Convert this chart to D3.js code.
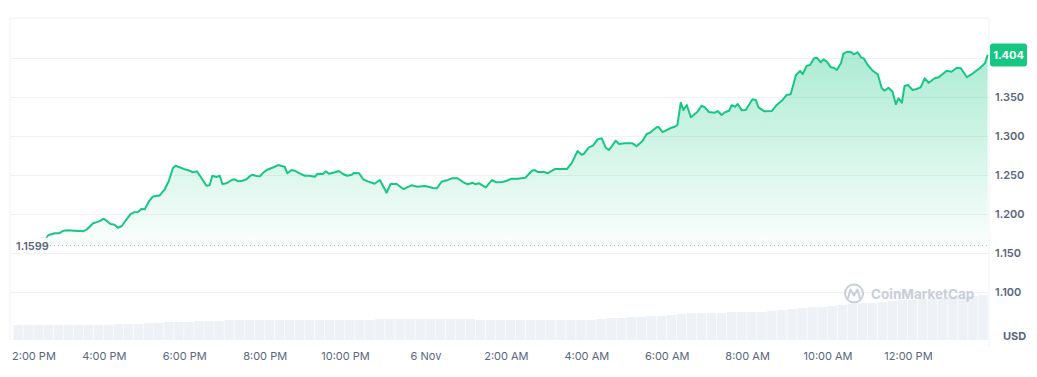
<!DOCTYPE html>
<html>
<head>
<meta charset="utf-8">
<script src="https://cdn.jsdelivr.net/npm/d3@7"></script>
<style>
body { margin: 0; background: #fff; }
text { font-family: Inter, "Noto Sans", sans-serif; }
</style>
</head>
<body>
<script>
// minutes after 5 Nov 2:00 PM
var minutes = [
  -17, 10, 35, 36, 39, 47, 53, 60, 66, 76,
  89, 95, 104, 113, 120, 124, 130, 136, 141, 147,
  153, 160, 165, 171, 176, 181, 187, 193, 199, 203,
  211, 217, 223, 227, 233, 241, 248, 253, 259, 266,
  273, 278, 282, 288, 293, 297, 303, 311, 315, 321,
  327, 333, 338, 342, 348, 353, 357, 363, 368, 375,
  380, 390, 394, 400, 405, 412, 420, 427, 435, 439,
  447, 451, 456, 465, 471, 477, 483, 490, 493, 501,
  507, 514, 524, 532, 542, 548, 557, 567, 579, 588,
  599, 606, 611, 617, 624, 632, 639, 648, 656, 663,
  671, 674, 680, 690, 699, 706, 715, 721, 729, 738,
  749, 759, 763, 768, 778, 782, 793, 800, 811, 818,
  827, 833, 836, 844, 850, 857, 863, 869, 874, 884,
  889, 897, 909, 915, 924, 930, 935, 945, 948, 954,
  965, 972, 976, 981, 985, 990, 996, 1006, 1012, 1017,
  1023, 1032, 1036, 1042, 1047, 1053, 1057, 1062, 1066, 1072,
  1078, 1088, 1093, 1097, 1106, 1117, 1124, 1133, 1139, 1145,
  1153, 1159, 1163, 1169, 1174, 1180, 1184, 1190, 1194, 1199,
  1205, 1209, 1214, 1220, 1224, 1230, 1236, 1239, 1245, 1250,
  1254, 1260, 1268, 1275, 1281, 1285, 1291, 1297, 1302, 1306,
  1311, 1315, 1320, 1327, 1333, 1339, 1345, 1351, 1360, 1366,
  1378, 1385, 1393, 1399, 1408, 1417, 1427, 1435, 1439
];
var prices = [
  1.1599, 1.1654, 1.1705, 1.1718, 1.1735, 1.1753, 1.1753, 1.1786, 1.1791, 1.1786,
  1.1778, 1.1804, 1.1881, 1.1906, 1.1940, 1.1914, 1.1872, 1.1863, 1.1824, 1.1846,
  1.1923, 1.2000, 1.2022, 1.2026, 1.2064, 1.2060, 1.2158, 1.2222, 1.2235, 1.2235,
  1.2317, 1.2423, 1.2586, 1.2619, 1.2599, 1.2573, 1.2555, 1.2535, 1.2547, 1.2458,
  1.2363, 1.2368, 1.2491, 1.2474, 1.2491, 1.2385, 1.2394, 1.2436, 1.2445, 1.2419,
  1.2427, 1.2445, 1.2487, 1.2504, 1.2487, 1.2483, 1.2522, 1.2564, 1.2581, 1.2606,
  1.2628, 1.2606, 1.2522, 1.2564, 1.2555, 1.2522, 1.2491, 1.2491, 1.2478, 1.2517,
  1.2513, 1.2547, 1.2517, 1.2535, 1.2551, 1.2513, 1.2491, 1.2504, 1.2526, 1.2522,
  1.2445, 1.2419, 1.2388, 1.2436, 1.2273, 1.2385, 1.2385, 1.2320, 1.2368, 1.2350,
  1.2359, 1.2346, 1.2333, 1.2329, 1.2414, 1.2432, 1.2458, 1.2458, 1.2410, 1.2381,
  1.2401, 1.2381, 1.2394, 1.2342, 1.2436, 1.2406, 1.2410, 1.2427, 1.2453, 1.2453,
  1.2465, 1.2555, 1.2564, 1.2538, 1.2538, 1.2522, 1.2577, 1.2577, 1.2577, 1.2650,
  1.2808, 1.2760, 1.2769, 1.2855, 1.2876, 1.2958, 1.2970, 1.2850, 1.2821, 1.2940,
  1.2897, 1.2906, 1.2906, 1.2868, 1.2936, 1.3026, 1.3042, 1.3112, 1.3115, 1.3051,
  1.3099, 1.3119, 1.3141, 1.3427, 1.3333, 1.3397, 1.3240, 1.3312, 1.3388, 1.3368,
  1.3308, 1.3299, 1.3321, 1.3269, 1.3304, 1.3324, 1.3394, 1.3376, 1.3410, 1.3329,
  1.3333, 1.3471, 1.3462, 1.3368, 1.3317, 1.3321, 1.3397, 1.3462, 1.3526, 1.3535,
  1.3782, 1.3833, 1.3795, 1.3901, 1.3910, 1.3996, 1.4004, 1.3945, 1.3983, 1.3953,
  1.3881, 1.3876, 1.3846, 1.3932, 1.4060, 1.4081, 1.4073, 1.4047, 1.4073, 1.4009,
  1.3996, 1.3910, 1.3833, 1.3791, 1.3612, 1.3581, 1.3619, 1.3568, 1.3406, 1.3483,
  1.3427, 1.3641, 1.3654, 1.3590, 1.3603, 1.3624, 1.3740, 1.3683, 1.3740, 1.3753,
  1.3837, 1.3824, 1.3876, 1.3868, 1.3753, 1.3804, 1.3868, 1.3932, 1.4040
];
// 15 minute volume bins, first bin starts at minute -15
var volumeStart = -15, volumeStep = 15;
var volumes = [
  15, 15, 15, 15, 15, 15, 15, 15, 15, 15,
  16, 16, 16, 17, 17, 18, 18, 18, 19, 19,
  19, 20, 20, 20, 20, 20, 20, 20, 20, 20,
  20, 20, 20, 20, 20, 20, 21, 21, 21, 21,
  21, 21, 21, 21, 21, 21, 20, 20, 20, 20,
  20, 20, 20, 20, 20, 20, 20, 20, 21, 22,
  22, 23, 23, 24, 24, 25, 26, 27, 27, 27,
  27, 28, 28, 28, 28, 29, 30, 31, 32, 33,
  33, 34, 35, 36, 37, 37, 38, 39, 40, 40,
  41, 41, 42, 43, 43, 44, 45
];
var tickMinutes = [0, 120, 240, 360, 480, 600, 720, 840, 960, 1080, 1200, 1320];
var tickLabels = ["2:00 PM", "4:00 PM", "6:00 PM", "8:00 PM", "10:00 PM", "6 Nov",
                  "2:00 AM", "4:00 AM", "6:00 AM", "8:00 AM", "10:00 AM", "12:00 PM"];
var priceTicks = [1.10, 1.15, 1.20, 1.25, 1.30, 1.35, 1.40];
var openPrice = 1.1599;
var lastPrice = 1.404;

var width = 1037, height = 377,
    plotLeft = 10, plotRight = 989, plotTop = 18, plotBottom = 340;

var green = "#16c784", grid = "#eff2f5", labelColor = "#58667e";

var svg = d3.select("body").append("svg")
    .attr("width", width)
    .attr("height", height);

var start = Date.UTC(2024, 10, 5, 14, 0);
function toDate(m) { return new Date(start + m * 60000); }

var x = d3.scaleTime()
    .domain([toDate(-20), toDate(1441)])
    .range([plotLeft, plotRight]);
var y = d3.scaleLinear()
    .domain([1.0385, 1.4513])
    .range([plotBottom, plotTop]);
var v = d3.scaleLinear()
    .domain([0, 100])
    .range([plotBottom, plotBottom - 100]);

var defs = svg.append("defs");
var areaGrad = defs.append("linearGradient")
    .attr("id", "areaGrad")
    .attr("gradientUnits", "userSpaceOnUse")
    .attr("x1", 0).attr("x2", 0)
    .attr("y1", y(1.41)).attr("y2", y(openPrice));
areaGrad.append("stop").attr("offset", 0).attr("stop-color", green).attr("stop-opacity", 0.36);
areaGrad.append("stop").attr("offset", 1).attr("stop-color", green).attr("stop-opacity", 0.02);

var fadeX = x(toDate(minutes[2]));
var lineGrad = defs.append("linearGradient")
    .attr("id", "lineGrad")
    .attr("gradientUnits", "userSpaceOnUse")
    .attr("x1", plotLeft).attr("x2", plotRight)
    .attr("y1", 0).attr("y2", 0);
var fadeOff = (fadeX - 1 - plotLeft) / (plotRight - plotLeft);
lineGrad.append("stop").attr("offset", 0).attr("stop-color", green).attr("stop-opacity", 0.12);
lineGrad.append("stop").attr("offset", fadeOff).attr("stop-color", green).attr("stop-opacity", 0.12);
lineGrad.append("stop").attr("offset", fadeOff + 0.001).attr("stop-color", green).attr("stop-opacity", 1);
lineGrad.append("stop").attr("offset", 1).attr("stop-color", green).attr("stop-opacity", 1);

// frame
svg.append("line")
    .attr("x1", plotLeft).attr("x2", plotRight)
    .attr("y1", plotTop).attr("y2", plotTop)
    .attr("stroke", grid);
svg.append("line")
    .attr("x1", plotLeft).attr("x2", plotLeft)
    .attr("y1", plotTop).attr("y2", plotBottom)
    .attr("stroke", grid);
svg.append("line")
    .attr("x1", plotRight).attr("x2", plotRight)
    .attr("y1", plotTop).attr("y2", plotBottom + 6)
    .attr("stroke", grid);

// grid lines
svg.append("g").selectAll("line")
    .data(priceTicks)
    .join("line")
    .attr("x1", plotLeft).attr("x2", plotRight)
    .attr("y1", d => Math.round(y(d)) + 0.5).attr("y2", d => Math.round(y(d)) + 0.5)
    .attr("stroke", grid);

// volume bars
svg.append("g").selectAll("rect")
    .data(volumes)
    .join("rect")
    .attr("x", (d, i) => x(toDate(volumeStart + volumeStep * i)))
    .attr("width", (d, i) => x(toDate(volumeStart + volumeStep * (i + 1))) - x(toDate(volumeStart + volumeStep * i)) - 0.6)
    .attr("y", d => v(d))
    .attr("height", d => v(0) - v(d))
    .attr("fill", "#eef1f5");

// watermark
var wm = svg.append("g").attr("fill", "none").attr("stroke", "#c9ced8");
wm.append("circle").attr("cx", 854).attr("cy", 293.5).attr("r", 9).attr("stroke-width", 2);
wm.append("path")
    .attr("d", "M848,298 L850.5,289.5 L854,295.5 L857.5,289.5 L860,298")
    .attr("stroke-width", 2).attr("stroke-linejoin", "round").attr("stroke-linecap", "round");
svg.append("text")
    .attr("x", 871).attr("y", 299)
    .attr("font-size", 13.5).attr("font-weight", 700)
    .attr("fill", "#c9ced8")
    .text("CoinMarketCap");

// area and line
var pts = minutes.map((m, i) => ({ t: toDate(m), p: prices[i] }));

svg.append("path")
    .datum(pts)
    .attr("fill", "url(#areaGrad)")
    .attr("d", d3.area()
        .x(d => x(d.t))
        .y0(y(openPrice))
        .y1(d => y(d.p)));

svg.append("path")
    .datum(pts)
    .attr("fill", "none")
    .attr("stroke", "url(#lineGrad)")
    .attr("stroke-width", 2)
    .attr("stroke-linejoin", "round")
    .attr("d", d3.line()
        .x(d => x(d.t))
        .y(d => y(d.p)));

// open price reference
svg.append("line")
    .attr("x1", 50).attr("x2", plotRight)
    .attr("y1", Math.round(y(openPrice)) + 0.5).attr("y2", Math.round(y(openPrice)) + 0.5)
    .attr("stroke", "#b4bac6")
    .attr("stroke-dasharray", "1,3");
svg.append("rect")
    .attr("x", 12).attr("y", y(openPrice) - 7)
    .attr("width", 37).attr("height", 14)
    .attr("fill", "#fff");
svg.append("text")
    .attr("x", 16).attr("y", y(openPrice) + 1)
    .attr("dy", "0.35em")
    .attr("font-size", 11).attr("font-weight", 600)
    .attr("fill", labelColor)
    .text(d3.format(".4f")(openPrice));

// right axis
var yAxis = d3.axisRight(y)
    .tickValues(priceTicks.filter(d => Math.abs(y(d) - y(lastPrice)) > 12))
    .tickFormat(d3.format(".3f"))
    .tickSize(0)
    .tickPadding(6);
var yg = svg.append("g")
    .attr("transform", `translate(${plotRight},0)`)
    .call(yAxis);
yg.select(".domain").remove();
yg.selectAll("text")
    .attr("fill", labelColor)
    .attr("font-size", 11)
    .attr("font-weight", 600)
    .attr("font-family", "Inter, sans-serif");

svg.append("text")
    .attr("x", 1003).attr("y", 336)
    .attr("dy", "0.35em")
    .attr("font-size", 11).attr("font-weight", 700)
    .attr("fill", labelColor)
    .text("USD");

// last price badge
svg.append("rect")
    .attr("x", 990).attr("y", y(lastPrice) - 11.5)
    .attr("width", 37).attr("height", 23)
    .attr("rx", 3)
    .attr("fill", green);
svg.append("text")
    .attr("x", 1008.5).attr("y", y(lastPrice) + 0.5)
    .attr("dy", "0.35em")
    .attr("text-anchor", "middle")
    .attr("font-size", 11).attr("font-weight", 700)
    .attr("fill", "#fff")
    .text(d3.format(".3f")(lastPrice));

// bottom axis
var xAxis = d3.axisBottom(x)
    .tickValues(tickMinutes.map(toDate))
    .tickFormat((d, i) => tickLabels[i])
    .tickSize(0);
var xg = svg.append("g")
    .attr("transform", `translate(0,${plotBottom})`)
    .call(xAxis);
xg.select(".domain").remove();
xg.selectAll("text")
    .attr("y", 16)
    .attr("dy", "0.35em")
    .attr("fill", labelColor)
    .attr("font-size", 11)
    .attr("font-family", "Inter, sans-serif")
    .each(function() {
        var t = d3.select(this);
        var tx = +d3.select(this.parentNode).attr("transform").match(/translate\(([-\d.]+)/)[1];
        var w = this.getComputedTextLength();
        if (tx - w / 2 < plotLeft + 2) t.attr("x", plotLeft + 2 + w / 2 - tx);
    });
</script>
</body>
</html>
